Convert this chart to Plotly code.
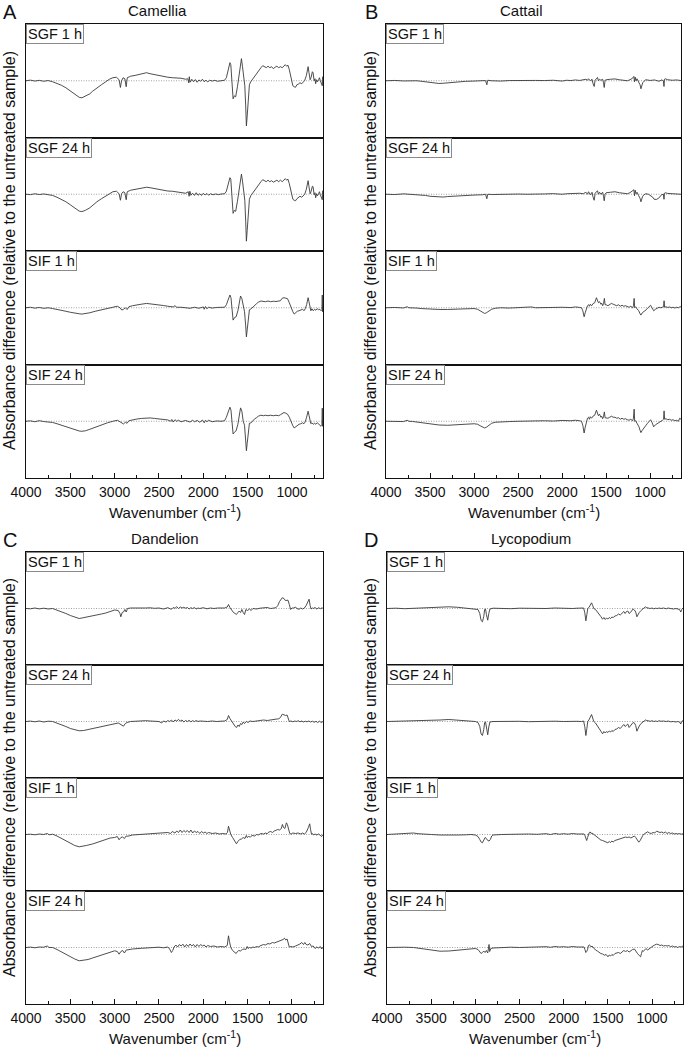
import plotly.graph_objects as go

W, H = 685, 1047

# FTIR difference spectra, (wavenumber cm-1, absorbance difference) in arbitrary units
cam_sgf1 = [(4000,0),(3950,0.6),(3900,-0.3),(3850,0.4),(3800,-0.5),(3750,0.2),(3700,-1),(3650,-2.5),(3600,-4.5),(3550,-7),(3500,-10),(3450,-13),(3400,-16.5),(3370,-17),(3330,-15.5),(3280,-13),(3250,-10.5),(3200,-7),(3150,-4),(3100,-1),(3060,1.5),(3020,3),(2980,3.5),(2950,1),(2935,-6.7),(2922,0),(2905,3),(2885,2),(2870,-6),(2858,3),(2820,4.5),(2760,5.5),(2700,6.5),(2640,8),(2600,7),(2550,6),(2500,5),(2450,4.5),(2400,3.5),(2350,3),(2300,2.8),(2250,2.5),(2200,1.5),(2175,2),(2165,-2),(2158,4),(2150,-1.5),(2130,1.5),(2110,-1),(2090,1.2),(2070,-1.5),(2050,0.8),(2030,-0.5),(2010,1.5),(1990,-1),(1970,0.6),(1950,-1.2),(1930,0.5),(1900,-0.3),(1870,0.4),(1840,-0.5),(1800,0),(1760,0.5),(1740,3),(1720,12),(1700,18),(1690,16),(1675,-5),(1664,-18),(1650,-15),(1635,-16),(1615,-6),(1600,2),(1585,12),(1570,22),(1558,14),(1545,2),(1532,-5),(1522,-25),(1514,-45),(1505,-35),(1495,-18),(1480,-4),(1465,-1),(1450,1),(1430,3),(1400,7),(1380,9),(1350,13),(1330,15),(1310,14),(1290,13),(1270,14.5),(1250,13),(1230,14),(1210,12),(1190,13.5),(1170,14.5),(1150,13),(1130,14),(1110,13),(1090,15),(1075,16),(1060,14.5),(1045,15.5),(1030,11),(1010,3),(990,-5),(975,-6),(960,-6.5),(945,-4),(930,-3.5),(910,-2),(890,-3),(870,-1),(856,0.5),(838,5),(825,13),(818,14),(808,8),(795,1),(785,3),(770,9),(762,8),(750,0),(740,2),(733,-3),(722,1),(712,-1),(700,1),(690,3),(680,0),(668,-2),(658,-5),(652,4),(650,1)]
cam_sgf24 = [(4000,0),(3950,-0.4),(3900,0.5),(3850,-0.3),(3800,0.3),(3750,-0.5),(3700,-1.2),(3650,-3),(3600,-5),(3550,-7.5),(3500,-10.5),(3450,-13.5),(3400,-16.8),(3370,-17.3),(3330,-16),(3280,-13.5),(3250,-11),(3200,-7.5),(3150,-4.5),(3100,-1.5),(3060,1),(3020,2.5),(2980,3),(2950,0.5),(2935,-6),(2922,0.5),(2905,2.5),(2885,1.5),(2870,-5.5),(2858,2.5),(2820,4),(2760,5),(2700,6),(2640,7),(2600,6.5),(2550,5.5),(2500,4.8),(2450,4),(2400,3.2),(2350,3),(2300,2.5),(2250,2),(2200,1),(2170,2.5),(2160,-2),(2152,3),(2140,-1),(2120,1),(2100,-1.2),(2080,1.5),(2060,-1),(2040,0.5),(2020,-1.2),(2000,1),(1980,-0.8),(1960,0.8),(1940,-1),(1920,0.5),(1890,-0.5),(1860,0.3),(1830,-0.4),(1800,0.2),(1760,0.5),(1740,3),(1720,11),(1700,16.5),(1690,15),(1675,-6),(1664,-19),(1650,-16),(1635,-17),(1615,-7),(1600,1),(1585,11),(1570,20),(1558,13),(1545,1),(1532,-6),(1522,-27),(1514,-46.7),(1505,-36),(1495,-19),(1480,-5),(1465,-1.5),(1450,0.5),(1430,3),(1400,6.5),(1380,9),(1350,12.5),(1330,14.5),(1310,13.5),(1290,12.5),(1270,14),(1250,12.5),(1230,13.5),(1210,12),(1190,13),(1170,14),(1150,12.5),(1130,14),(1110,12.5),(1090,14.5),(1075,15.5),(1060,14),(1045,15),(1030,10.5),(1010,2.5),(990,-5),(975,-6),(960,-6.5),(945,-4.5),(930,-3.5),(910,-2),(890,-3),(870,-1),(856,0),(838,5),(825,12.5),(818,13.5),(808,7.5),(795,0.5),(785,2.5),(770,8),(762,7.5),(750,-0.5),(740,1.5),(733,-3.5),(722,0.5),(712,-1.5),(700,0.5),(690,2.5),(680,-0.5),(668,-2.5),(658,-5.5),(652,3.5),(650,0.5)]
cam_sif1 = [(4000,0),(3950,0.5),(3900,-0.4),(3850,0.3),(3800,-0.6),(3750,0),(3700,-0.8),(3650,-1.5),(3600,-2.5),(3550,-3.5),(3500,-4.5),(3450,-5.5),(3400,-6),(3370,-6.3),(3330,-6),(3280,-5),(3220,-3.5),(3150,-2),(3080,-0.5),(3020,1),(2970,1.5),(2940,0),(2920,-2.3),(2900,-1.5),(2880,0),(2860,-1.8),(2840,1),(2800,2),(2750,3),(2700,3.5),(2640,4.3),(2600,4),(2550,3.5),(2500,3),(2450,2.2),(2400,1.5),(2360,1.5),(2340,0.8),(2320,2),(2300,0.5),(2250,0.5),(2200,0.2),(2150,-0.5),(2100,0.5),(2050,-0.5),(2000,0.8),(1990,-1.5),(1975,1.2),(1960,-1),(1940,0.5),(1900,-0.3),(1850,0.3),(1800,0),(1760,0.5),(1740,3),(1720,9),(1700,12.7),(1688,10),(1675,-4),(1664,-12.3),(1650,-10),(1630,-9),(1610,-3),(1595,5),(1580,11.7),(1565,9),(1550,0),(1535,-4),(1522,-18),(1514,-29),(1505,-22),(1495,-10),(1480,-2),(1460,-1),(1440,1),(1420,3),(1400,4),(1380,5.5),(1350,6.7),(1300,6),(1270,6.7),(1240,6),(1210,6.5),(1180,6.2),(1150,6.7),(1130,7),(1110,9.5),(1090,10),(1070,9.5),(1050,9),(1030,5),(1010,0),(990,-4),(975,-6.3),(960,-5),(940,-3.5),(920,-3),(900,-2),(880,-1.5),(865,-3),(850,-1),(835,3),(825,8),(818,10),(808,6),(797,-1),(787,-3),(775,-1),(760,-3),(745,-1.5),(730,-2.5),(715,-1),(700,-2),(685,-1.5),(672,-3),(662,-2),(658,12.7),(655,-4),(650,1)]
cam_sif24 = [(4000,0),(3950,0.4),(3900,-0.5),(3850,0.6),(3800,-0.3),(3750,-0.5),(3700,-1.2),(3650,-2.5),(3600,-4),(3550,-5.5),(3500,-7),(3450,-8.5),(3400,-9.7),(3370,-10),(3330,-9.5),(3280,-8),(3220,-6),(3150,-3.5),(3080,-1.5),(3020,0),(2970,1),(2940,-0.5),(2920,-2),(2900,-2.7),(2880,-1),(2860,-2),(2840,0.5),(2800,1.5),(2750,2.2),(2700,2.8),(2640,3.3),(2600,3.3),(2550,2.8),(2500,2.2),(2450,1.5),(2400,1.3),(2370,0),(2355,1.8),(2340,-0.8),(2320,1.5),(2300,0),(2280,1),(2250,-0.5),(2200,0.8),(2150,-0.8),(2120,1),(2100,-0.5),(2070,0.8),(2040,-1),(2010,1.2),(1990,-1.5),(1975,1),(1960,-0.5),(1940,1),(1900,-0.5),(1850,0.3),(1800,0),(1760,0.5),(1740,4),(1720,10),(1700,14),(1688,11),(1675,-4),(1664,-12.7),(1650,-11),(1630,-9.5),(1610,-3),(1595,6),(1580,13.3),(1565,10),(1550,0),(1535,-4),(1522,-18),(1514,-29.3),(1505,-22),(1495,-10),(1480,-2),(1460,-1.5),(1440,1),(1420,2.5),(1400,3.5),(1380,5),(1350,6),(1320,5.5),(1300,6),(1270,5.5),(1240,6),(1210,5.5),(1180,6),(1150,5.5),(1130,6.5),(1110,8),(1090,8.7),(1070,8),(1050,7),(1030,4),(1010,-1),(990,-4.5),(975,-6.7),(960,-5.5),(940,-4),(920,-3),(900,-2.5),(880,-1.5),(865,-2.5),(850,-0.5),(835,4),(825,8.5),(818,10),(808,6),(797,-1),(787,-2.5),(775,-1.5),(760,-3),(745,-2),(730,-3),(715,-1.5),(700,-3),(685,-4),(672,-5),(662,-4),(658,13),(655,-5),(650,0)]

cat_sgf1 = [(4000,0),(3900,0.3),(3800,-0.2),(3700,0.4),(3650,0),(3600,-0.5),(3550,-1),(3500,-1.8),(3450,-2.3),(3400,-2.7),(3350,-2.5),(3300,-2),(3250,-1.5),(3200,-1),(3100,-0.6),(3000,-0.3),(2900,-0.2),(2870,0.2),(2855,-4),(2845,0.5),(2800,0),(2700,-0.3),(2600,0.2),(2500,0),(2400,-0.2),(2300,0.3),(2200,0.2),(2100,0.5),(2000,-0.3),(1950,0.5),(1900,0.2),(1850,0.8),(1800,0.3),(1760,0.6),(1730,1.5),(1712,0.5),(1700,2),(1680,0),(1660,1.5),(1650,-2.5),(1636,-5.7),(1625,0.5),(1610,2),(1598,3.3),(1588,0),(1575,1.5),(1560,0.5),(1540,1.5),(1530,-2),(1522,-6.7),(1512,0.5),(1500,1),(1450,1.5),(1400,1.8),(1350,1),(1300,0.5),(1260,0),(1230,1),(1200,2.5),(1185,4.3),(1178,-1),(1170,3.5),(1160,0),(1150,2),(1130,-1),(1115,-4),(1105,-8),(1095,-5),(1085,-2),(1070,-0.5),(1050,1),(1000,0.3),(950,0.8),(900,-0.5),(870,0.8),(850,0),(843,-5.7),(838,1.5),(830,2),(800,1),(750,0.5),(700,0.8),(650,0.2)]
cat_sgf24 = [(4000,0),(3900,-0.3),(3800,0.4),(3700,0),(3650,-0.3),(3600,-0.8),(3550,-1.2),(3500,-2),(3450,-2.5),(3400,-2.5),(3350,-2.8),(3300,-2.3),(3250,-2),(3200,-1.5),(3100,-1),(3000,-0.8),(2900,-0.5),(2870,0),(2855,-4.5),(2845,0),(2800,-0.3),(2700,0),(2600,-0.3),(2500,0.2),(2400,0),(2300,0.5),(2200,0.3),(2100,0.6),(2000,0),(1950,0.5),(1900,0.8),(1850,0.5),(1800,1),(1760,0.5),(1730,2),(1712,0),(1700,2.5),(1680,-0.5),(1660,2),(1650,-2.5),(1636,-6),(1625,1),(1610,2.5),(1598,3.5),(1588,0),(1575,2),(1560,0),(1540,2),(1530,-2),(1522,-6.5),(1512,0),(1500,1.5),(1450,2),(1400,2.5),(1350,1.5),(1300,1),(1260,0.5),(1230,1.5),(1200,3),(1185,4.5),(1178,-1.5),(1170,4),(1160,0.5),(1150,2),(1130,-1.5),(1115,-4),(1105,-7.5),(1095,-4.5),(1085,-2),(1070,-0.5),(1050,0.5),(1020,0),(990,-1.5),(970,-3),(955,-5),(930,-5.2),(905,-4),(885,-2.5),(870,-0.5),(850,0),(843,-5),(838,1),(830,1.5),(800,0.8),(750,0.5),(700,0.5),(650,0)]
cat_sif1 = [(4000,0),(3900,0.3),(3800,-0.2),(3760,1),(3740,0),(3700,0.2),(3650,-0.3),(3600,-0.8),(3550,-1.2),(3500,-1.5),(3400,-1.7),(3300,-1.7),(3200,-1.5),(3100,-1),(3000,-0.8),(2960,-1.5),(2930,-3),(2900,-5),(2880,-5.7),(2860,-5),(2830,-3),(2800,-1.5),(2760,-0.5),(2700,0),(2600,-0.3),(2500,0),(2400,0.3),(2350,0.8),(2300,0),(2200,0.3),(2100,0),(2000,0.5),(1900,0.2),(1850,0.8),(1800,0.3),(1780,0),(1765,-3),(1750,-9),(1738,-5),(1725,-1),(1712,2),(1700,3),(1690,1.5),(1680,3.5),(1665,2),(1650,4),(1630,5),(1610,10),(1600,7),(1588,5),(1575,6),(1560,3.5),(1550,4.5),(1540,2),(1530,4),(1520,9.3),(1512,3),(1500,3),(1480,2),(1460,3),(1440,4.3),(1420,3.5),(1400,3),(1380,2),(1360,3),(1340,1.5),(1320,2.5),(1300,1.5),(1280,2),(1260,1),(1240,0.5),(1220,1.5),(1200,0),(1190,2),(1182,9.3),(1176,0),(1165,1),(1150,-1),(1130,-3),(1115,-6),(1105,-7.3),(1090,-5),(1075,-4),(1060,-3.5),(1045,-2),(1030,-0.5),(1010,1.5),(995,2.5),(980,0),(960,-3),(940,-1.5),(920,-0.5),(900,0.5),(880,0),(860,0.5),(848,1),(842,7),(836,0.5),(820,1),(800,0.3),(780,0.8),(760,0),(740,0.5),(720,-0.3),(700,0.5),(680,0),(665,0.8),(650,1)]
cat_sif24 = [(4000,0),(3900,0.2),(3800,-0.3),(3760,1),(3740,0),(3700,-0.2),(3650,-0.8),(3600,-1.5),(3550,-2.3),(3500,-3),(3400,-3.7),(3300,-4),(3200,-3.8),(3100,-3),(3000,-2.5),(2960,-3),(2930,-4.5),(2900,-6),(2880,-6.7),(2860,-6),(2830,-4),(2800,-2),(2760,-1),(2700,-0.5),(2600,-0.3),(2500,0),(2400,0.3),(2350,0.5),(2300,0),(2200,0.5),(2100,0.2),(2000,0.8),(1900,0.5),(1850,1),(1800,0.5),(1780,0),(1765,-4),(1750,-11.7),(1738,-6),(1725,-1),(1712,3),(1700,4),(1690,2),(1680,4.5),(1665,3),(1650,5),(1630,6),(1610,11),(1600,8),(1588,5.5),(1575,7),(1560,4),(1550,5),(1540,2.5),(1530,4.5),(1520,9.3),(1512,3.5),(1500,3.5),(1480,3),(1460,4),(1440,5),(1420,4),(1400,4),(1380,3),(1360,3.5),(1340,2),(1320,3),(1300,2),(1280,2.5),(1260,1.5),(1240,1),(1220,2),(1200,0.5),(1190,3),(1182,12),(1176,0),(1165,0.5),(1150,-2),(1130,-5),(1115,-9),(1105,-11.3),(1090,-9),(1075,-7),(1060,-6),(1045,-4),(1030,-2),(1010,0),(995,1.5),(980,-1),(960,-5.5),(940,-3.5),(920,-2.5),(900,-1),(880,0),(860,1),(848,2),(842,10.3),(836,2),(820,2.5),(800,1.5),(780,2),(760,1),(740,1.5),(720,0.5),(700,1),(680,0),(665,3),(650,2)]

dan_sgf1 = [(4000,0),(3950,-0.3),(3900,0.5),(3850,-0.4),(3800,0.3),(3750,-0.5),(3700,0),(3650,-1.5),(3600,-3),(3550,-5),(3500,-7),(3450,-8.5),(3400,-10),(3370,-9.5),(3300,-8),(3250,-7),(3200,-6.5),(3150,-5.5),(3100,-4.5),(3050,-3),(3000,-1.5),(2960,-2),(2940,-5),(2930,-8.3),(2915,-4),(2900,-3.5),(2885,-1),(2870,-3.5),(2855,0),(2820,0.5),(2750,0.3),(2700,0.8),(2650,0.5),(2600,0.7),(2550,0.2),(2500,0.5),(2450,-0.5),(2400,0.8),(2360,-0.8),(2340,1),(2320,0.2),(2300,1.8),(2280,0),(2260,1.5),(2240,0.5),(2220,1.2),(2200,0.3),(2180,1),(2160,-0.5),(2140,0.8),(2120,0),(2100,1),(2080,-0.5),(2060,0.5),(2040,0),(2000,0.8),(1960,-0.3),(1920,0.5),(1880,0),(1840,0.5),(1800,0.2),(1760,0.5),(1730,1.5),(1716,4),(1700,1),(1680,-2),(1660,-4),(1640,-5),(1627,-6),(1610,-4),(1595,-2.5),(1580,-4),(1565,-1),(1550,-4),(1535,-6),(1520,-1),(1500,-2),(1480,-0.5),(1460,-2),(1440,0),(1400,-0.5),(1360,0.3),(1320,0.5),(1280,1),(1240,0),(1200,0.5),(1180,0.8),(1160,3),(1140,7),(1110,10.7),(1090,10),(1075,8),(1060,8.5),(1045,8.3),(1030,4),(1015,-1),(1000,0.5),(980,0.5),(960,1.5),(945,0),(920,-0.8),(900,0.5),(880,-0.5),(860,0.5),(840,3),(820,7),(807,9.3),(795,3),(785,-0.5),(770,0.5),(760,0),(740,1),(720,-0.5),(700,0.8),(680,-0.2),(660,0.7),(650,0)]
dan_sgf24 = [(4000,0),(3950,0.4),(3900,-0.3),(3850,0.5),(3800,-0.5),(3750,0.3),(3700,0),(3650,-1.5),(3600,-3),(3550,-5),(3500,-7),(3450,-8.5),(3400,-9.3),(3350,-9),(3300,-8),(3250,-7),(3200,-6),(3150,-5),(3100,-4),(3050,-3),(3000,-2.3),(2960,-1.5),(2940,-2.5),(2920,-4),(2900,-4.7),(2880,-2),(2860,-1),(2820,0),(2750,0.5),(2700,0.3),(2650,0.8),(2600,0.5),(2550,0.3),(2500,0),(2470,-1.5),(2450,0.5),(2420,-0.5),(2400,1),(2380,0),(2360,1.5),(2340,-0.5),(2320,1.5),(2300,0.5),(2280,2),(2260,0.5),(2240,1.5),(2220,-0.5),(2200,1),(2180,0),(2160,1.2),(2140,-0.3),(2120,0.8),(2100,0),(2080,1),(2060,0),(2040,0.5),(2000,0.3),(1950,0),(1900,0.5),(1850,0),(1800,0.3),(1760,0.5),(1730,2),(1716,6),(1700,3),(1680,0),(1660,-3),(1640,-5),(1625,-6),(1610,-3.5),(1595,-5),(1580,-2),(1565,-3),(1550,-0.5),(1535,-2),(1515,0),(1495,-1),(1475,0.5),(1440,0),(1400,0.5),(1360,1),(1320,1.5),(1280,1),(1240,1.8),(1200,2),(1170,2.5),(1150,2.7),(1130,4),(1110,7.3),(1090,6.5),(1070,6),(1055,6.5),(1045,4),(1030,0),(1010,0.5),(990,-0.3),(970,0.5),(950,0),(930,0.8),(910,-0.3),(890,0.5),(870,-0.5),(850,0.3),(830,-0.3),(810,0.5),(790,-0.5),(770,0.3),(750,-0.8),(730,0.2),(710,-1),(690,0.3),(670,-1),(650,0)]
dan_sif1 = [(4000,0),(3950,0.3),(3900,-0.3),(3850,0.5),(3800,0),(3760,1),(3740,-0.3),(3700,0.3),(3650,-1.5),(3600,-4),(3550,-6.5),(3500,-9),(3450,-11),(3400,-12.3),(3370,-12),(3320,-11),(3250,-9.5),(3200,-8),(3150,-6.5),(3100,-5),(3050,-3.5),(3000,-3),(2970,-2),(2950,-5.3),(2930,-3),(2910,-2.5),(2890,-4),(2870,-1.5),(2850,-1.7),(2800,-0.5),(2700,0),(2600,0.5),(2500,1.5),(2450,1),(2400,2),(2370,1),(2350,3),(2320,1.5),(2300,3.5),(2280,2),(2260,4.5),(2240,2),(2220,4),(2200,2.5),(2180,4),(2160,2),(2140,4.5),(2120,1.5),(2100,3.5),(2080,2),(2060,3),(2040,1),(2020,3),(2000,1.5),(1980,2.5),(1960,1),(1940,2),(1900,1),(1860,1.5),(1820,0.5),(1780,1),(1745,0.5),(1728,2),(1716,8.3),(1705,5),(1690,0),(1670,-3),(1650,-6),(1626,-9.3),(1610,-7),(1590,-5),(1570,-4.5),(1550,-3),(1530,-4),(1515,-1),(1505,-3),(1490,-2),(1470,-2.5),(1450,-1),(1420,-1.5),(1400,0),(1380,-0.5),(1350,1),(1320,0.5),(1300,1.5),(1280,0.8),(1260,2.5),(1240,3),(1220,2),(1200,3.5),(1180,4),(1160,5),(1140,4.5),(1120,6),(1108,10),(1095,7),(1080,6),(1063,11.7),(1052,10),(1040,5),(1025,1),(1010,0.5),(990,1.5),(960,1),(930,1.5),(900,0.5),(880,1.5),(860,0.5),(840,2),(815,7),(800,10.7),(790,5),(780,0.5),(770,1),(760,-0.5),(740,0.5),(720,-0.5),(700,0.5),(680,-1),(665,-2),(650,0)]
dan_sif24 = [(4000,0),(3950,0.4),(3900,-0.3),(3850,0.5),(3800,0.3),(3760,1.5),(3740,0),(3700,0),(3650,-2),(3600,-4.5),(3550,-7),(3500,-9.5),(3450,-11.5),(3400,-13.3),(3350,-13),(3300,-12),(3250,-10.5),(3200,-9),(3150,-7.5),(3100,-6),(3050,-4.5),(3000,-3.3),(2970,-4),(2950,-6.7),(2930,-4),(2910,-3),(2890,-5.5),(2870,-2.5),(2850,-2.3),(2800,-1.5),(2700,-0.8),(2600,-0.3),(2500,0.3),(2450,-0.3),(2400,0.5),(2380,-1.5),(2360,-5),(2345,-3),(2330,0.5),(2310,2.5),(2290,0.5),(2270,3),(2250,1.5),(2230,3.3),(2210,0.5),(2190,3),(2170,1),(2150,3.5),(2130,1.5),(2110,3),(2090,0.5),(2070,3),(2050,1),(2030,3),(2010,1.5),(1990,2.5),(1970,0.5),(1950,2),(1920,1),(1880,1.5),(1840,0.5),(1800,1),(1760,0.5),(1730,2),(1716,11.7),(1705,6),(1690,0),(1670,-3),(1650,-5),(1630,-6),(1615,-4),(1600,-3),(1580,-3.5),(1560,-2),(1540,-1.5),(1520,-2),(1505,1),(1495,-1),(1480,0),(1460,-0.5),(1440,0.5),(1420,0),(1400,1),(1380,0.5),(1350,2),(1320,3),(1300,2.5),(1270,4),(1250,3.5),(1220,5),(1200,4.5),(1170,5.5),(1150,6),(1120,7),(1100,8),(1085,9.3),(1070,7.5),(1055,8.5),(1040,4),(1030,0.5),(1010,1),(990,0.5),(960,1.5),(940,2),(910,3.5),(890,5),(870,3),(855,5),(840,3),(820,2.5),(800,4),(780,1),(760,1.5),(740,-1),(720,0.5),(700,-0.5),(680,1),(665,-1.5),(650,0.5)]

lyc_sgf1 = [(4000,0),(3900,0.3),(3800,-0.2),(3700,0.2),(3600,0),(3500,0.5),(3400,1),(3300,1.7),(3200,1.2),(3100,0.5),(3050,0),(3000,-0.3),(2970,-1),(2950,-5),(2935,-12),(2920,-13.3),(2905,-8),(2895,-1),(2885,-0.5),(2875,-6),(2860,-11.7),(2848,-5),(2835,-0.5),(2800,0.3),(2700,0),(2600,-0.2),(2500,0.3),(2400,0),(2300,0.3),(2200,0),(2100,0.5),(2000,0),(1950,0.5),(1900,0),(1850,0.3),(1800,0),(1775,0.5),(1762,-4),(1749,-12.3),(1738,-6),(1728,0),(1715,1),(1700,3),(1685,5.7),(1672,3),(1660,0),(1640,-1),(1620,-3),(1600,-5),(1580,-8),(1560,-10.7),(1545,-9),(1530,-11),(1515,-9.5),(1500,-10.5),(1485,-9),(1470,-10),(1455,-8.5),(1440,-9),(1420,-7.5),(1400,-7),(1380,-5.5),(1360,-6.5),(1340,-4.5),(1320,-3),(1305,-5),(1290,-3),(1275,-2.5),(1260,-5),(1245,-4),(1230,-2),(1215,-0.5),(1200,-1.5),(1185,-3.5),(1172,-8.3),(1160,-6),(1145,-4),(1125,-2),(1105,-0.5),(1090,1),(1075,1.7),(1060,0.8),(1040,0.5),(1020,0),(1000,0.5),(980,-0.3),(960,0.3),(940,0),(920,0.5),(900,0),(870,0.5),(840,-0.3),(820,0.5),(790,0),(760,-0.5),(730,0),(710,-0.5),(690,-1),(675,-3.5),(665,-1),(650,0.5)]
lyc_sgf24 = [(4000,0),(3900,0.2),(3800,0),(3700,0.5),(3600,0.8),(3500,1.2),(3400,1.5),(3300,2),(3200,1.5),(3100,0.8),(3050,0.3),(3000,0),(2970,-1),(2950,-5),(2935,-12.5),(2920,-14),(2905,-8),(2895,-1),(2885,-0.5),(2875,-6),(2860,-13.3),(2848,-5.5),(2835,-0.5),(2800,0),(2700,0.3),(2600,0),(2500,0.2),(2400,-0.2),(2300,0.2),(2200,0),(2100,0.3),(2000,0),(1950,0.3),(1900,0),(1850,0.2),(1800,0),(1775,0.5),(1762,-5),(1749,-14),(1738,-7),(1728,0),(1715,1.5),(1700,4),(1685,7),(1672,3.5),(1660,0),(1640,-1.5),(1620,-4),(1600,-7),(1580,-10),(1560,-12.3),(1545,-10),(1530,-11.5),(1515,-10),(1500,-11),(1485,-9.5),(1470,-10.5),(1455,-9),(1440,-10),(1420,-8),(1400,-7.5),(1380,-6),(1360,-7),(1340,-5),(1320,-3),(1305,-5),(1290,-3.5),(1275,-2.5),(1260,-6),(1245,-4.5),(1230,-2.5),(1215,-1),(1200,-1.5),(1185,-4),(1172,-9.7),(1160,-7),(1145,-4.5),(1125,-2),(1105,-0.5),(1090,1),(1075,1.5),(1060,1),(1040,0.5),(1020,0.2),(1000,0.8),(980,0),(960,0.5),(940,0),(920,0.8),(900,0.2),(870,0.5),(840,0),(820,0.5),(790,-0.3),(760,0),(730,-0.5),(710,0),(690,-0.5),(675,-2.5),(665,0),(650,1)]
lyc_sif1 = [(4000,0),(3900,0.5),(3800,1),(3750,1.7),(3700,1.5),(3650,0.8),(3600,0.3),(3500,0),(3400,-0.5),(3300,-0.8),(3200,-0.5),(3100,-0.3),(3050,0),(3000,-0.5),(2970,-2),(2950,-5),(2935,-7.5),(2920,-8.3),(2905,-6),(2890,-3),(2875,-4),(2860,-6),(2845,-6.5),(2830,-5),(2815,-1.5),(2800,-0.5),(2700,0),(2600,0.3),(2500,0),(2400,0.5),(2300,0.2),(2200,0.8),(2150,0),(2100,1),(2050,0.3),(2000,0.8),(1950,0.3),(1900,1),(1850,0.5),(1800,0.8),(1770,0.5),(1760,-1),(1750,-4),(1740,-6),(1730,-3),(1720,1),(1710,2),(1700,2.5),(1690,1),(1680,1.5),(1660,0),(1640,-1.5),(1620,-3),(1600,-4),(1580,-5.5),(1560,-6),(1540,-7),(1520,-7.5),(1500,-8.3),(1485,-7),(1470,-8),(1455,-6.5),(1440,-7.5),(1420,-6),(1400,-5.5),(1380,-5),(1360,-4.5),(1340,-4),(1320,-3),(1300,-2.5),(1280,-3),(1260,-2.5),(1240,-3.5),(1220,-2.5),(1200,-1.5),(1185,-3),(1165,-5.5),(1150,-7.7),(1135,-6),(1120,-3),(1105,-1),(1090,0.5),(1070,1.5),(1050,2.7),(1030,1.5),(1010,1),(990,2),(970,1.5),(950,3.3),(930,3),(910,2),(890,2.5),(870,1.5),(850,2.5),(830,1),(810,2),(790,1),(770,1.5),(750,0.5),(730,1),(710,0.5),(690,1),(670,0.3),(650,0.7)]
lyc_sif24 = [(4000,0),(3900,0.5),(3800,0.3),(3700,0),(3600,-1),(3500,-2.5),(3400,-3.7),(3300,-3.5),(3200,-2.5),(3100,-1.5),(3050,-1),(3000,-1),(2970,-2),(2950,-4),(2935,-6),(2920,-5),(2905,-3.5),(2890,-5),(2875,-3),(2860,-5.5),(2850,-1),(2845,3),(2838,-4),(2825,-1),(2800,-0.5),(2700,0),(2600,0.3),(2500,0),(2400,0.5),(2300,0.3),(2200,0.8),(2150,0.2),(2100,1),(2050,0.5),(2000,0.8),(1950,0.3),(1900,1),(1850,0.5),(1800,0.8),(1770,0.5),(1760,-2),(1750,-5),(1740,-4),(1730,-2),(1720,2),(1710,2.5),(1700,2),(1690,0.5),(1680,1.5),(1660,-1),(1640,-2.5),(1620,-3.5),(1600,-5),(1580,-6),(1560,-6.5),(1540,-7.7),(1520,-7),(1500,-9.3),(1485,-7.5),(1470,-8.5),(1455,-7),(1440,-8),(1420,-6),(1400,-5.5),(1380,-5),(1360,-6),(1340,-4.5),(1320,-3),(1300,-4),(1280,-3),(1260,-4.5),(1240,-3),(1220,-2),(1200,-1.5),(1185,-4),(1165,-6),(1145,-8),(1130,-9.3),(1120,-6),(1110,-3),(1100,-4),(1085,-2),(1070,-1),(1050,-2.5),(1030,-1),(1010,0.5),(990,1.5),(970,2.5),(950,3.3),(930,3),(910,2),(890,2.5),(870,1.5),(850,2),(830,1.5),(810,2),(790,0.8),(770,1.5),(750,0.5),(730,1),(710,0),(690,1),(670,0.5),(650,1.5)]

treatments = ["SGF 1 h", "SGF 24 h", "SIF 1 h", "SIF 24 h"]
tick_vals = [4000, 3500, 3000, 2500, 2000, 1500, 1000]
minor_vals = [3750, 3250, 2750, 2250, 1750, 1250, 750]

# panel boxes in pixels: left, right, top, bottom
panels = [
    dict(letter="A", name="Camellia", box=(26, 323, 24, 478), title_x=157, ytitle_x=9,
         spectra=[cam_sgf1, cam_sgf24, cam_sif1, cam_sif24]),
    dict(letter="B", name="Cattail", box=(386, 681, 24, 478), title_x=521, ytitle_x=370,
         spectra=[cat_sgf1, cat_sgf24, cat_sif1, cat_sif24]),
    dict(letter="C", name="Dandelion", box=(26, 323, 552, 1004), title_x=165, ytitle_x=9,
         spectra=[dan_sgf1, dan_sgf24, dan_sif1, dan_sif24]),
    dict(letter="D", name="Lycopodium", box=(387, 683, 552, 1004), title_x=531, ytitle_x=370,
         spectra=[lyc_sgf1, lyc_sgf24, lyc_sif1, lyc_sif24]),
]

FONT = "Arial, Liberation Sans, sans-serif"
LINE = "#3a3a3a"
INK = "#111111"


def px(x):
    return x / W


def py(y):
    return 1 - y / H


fig = go.Figure()
layout = {}
shapes = []
annotations = []

n = 0
for p in panels:
    left, right, top, bottom = p["box"]
    h = (bottom - top) / 4
    for k, spec in enumerate(p["spectra"]):
        n += 1
        sfx = "" if n == 1 else str(n)
        t0 = top + k * h
        t1 = t0 + h
        is_bottom = k == 3
        wn = [a for a, _ in spec]
        ab = [b for _, b in spec]
        fig.add_trace(go.Scatter(
            x=wn, y=ab, mode="lines", xaxis="x" + sfx, yaxis="y" + sfx,
            line=dict(color=LINE, width=0.9), hoverinfo="skip",
        ))
        xa = dict(
            domain=[px(left), px(right)], anchor="y" + sfx, range=[4000, 650],
            automargin=False,
            showline=True, mirror=True, linecolor=INK, linewidth=1,
            showgrid=False, zeroline=False,
        )
        if is_bottom:
            xa.update(
                tickmode="array", tickvals=tick_vals, ticks="inside", ticklen=5,
                tickcolor=INK, showticklabels=True, ticklabelstandoff=1,
                tickfont=dict(family=FONT, size=14, color=INK),
                minor=dict(ticks="inside", tickmode="array", tickvals=minor_vals,
                           ticklen=3, tickcolor=INK),
            )
        else:
            xa.update(ticks="", showticklabels=False)
        layout["xaxis" + sfx] = xa
        layout["yaxis" + sfx] = dict(
            domain=[py(t1), py(t0)], anchor="x" + sfx, range=[-56.5, 56.5],
            automargin=False,
            showline=True, mirror=True, linecolor=INK, linewidth=1,
            showgrid=False, zeroline=False, showticklabels=False, ticks="",
        )
        shapes.append(dict(
            type="line", xref="x" + sfx + " domain", yref="y" + sfx,
            x0=0, x1=1, y0=0, y1=0, layer="below",
            line=dict(color="#8c8c8c", width=0.8, dash="1px,1.5px"),
        ))
        annotations.append(dict(
            text=treatments[k], xref="x" + sfx + " domain", yref="y" + sfx + " domain",
            x=0, y=1, xanchor="left", yanchor="top", showarrow=False,
            font=dict(family=FONT, size=14.5, color=INK),
            bgcolor="white", bordercolor="#8a8a8a", borderwidth=1, borderpad=1,
        ))

    annotations.append(dict(
        text=p["letter"], xref="paper", yref="paper",
        x=px(p["ytitle_x"] + 1), y=py(top - 12), showarrow=False,
        xanchor="center", yanchor="middle",
        font=dict(family=FONT, size=20, color=INK),
    ))
    annotations.append(dict(
        text=p["name"], xref="paper", yref="paper",
        x=px(p["title_x"]), y=py(top - 14), showarrow=False,
        xanchor="center", yanchor="middle",
        font=dict(family=FONT, size=15, color=INK),
    ))
    annotations.append(dict(
        text="Absorbance difference (relative to the untreated sample)",
        xref="paper", yref="paper", x=px(p["ytitle_x"]), y=py((top + bottom) / 2),
        textangle=-90, showarrow=False, xanchor="center", yanchor="middle",
        font=dict(family=FONT, size=16, color=INK),
    ))
    annotations.append(dict(
        text="Wavenumber (cm<sup>-1</sup>)", xref="paper", yref="paper",
        x=px((left + right) / 2), y=py(bottom + 33), showarrow=False,
        xanchor="center", yanchor="middle",
        font=dict(family=FONT, size=15, color=INK),
    ))

fig.update_layout(
    width=W, height=H,
    margin=dict(l=0, r=0, t=0, b=0, autoexpand=False),
    plot_bgcolor="white", paper_bgcolor="white",
    showlegend=False,
    shapes=shapes, annotations=annotations,
    **layout,
)

fig.write_html("out.html", config={"displayModeBar": False},
               post_script="document.body.style.margin='0';")
